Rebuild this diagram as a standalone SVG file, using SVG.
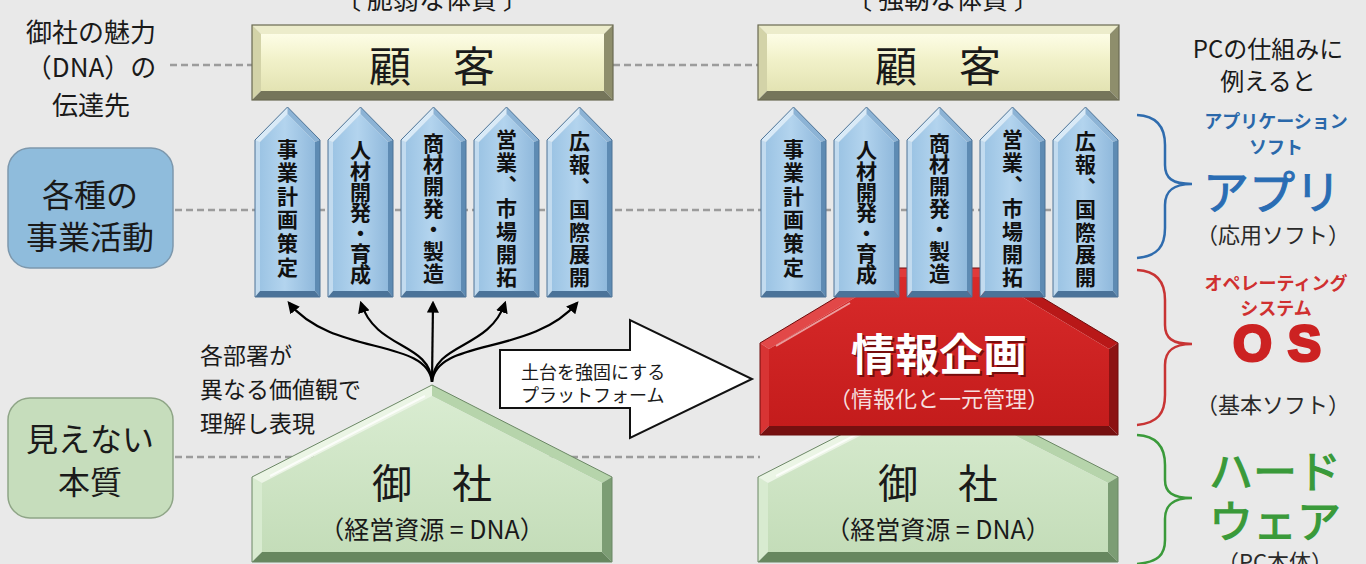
<svg xmlns="http://www.w3.org/2000/svg" width="1366" height="564" viewBox="0 0 1366 564">
<defs>
<style>
text { font-family: "Noto Sans CJK JP", "Noto Sans", sans-serif; fill:#1a1a1a; }
.c { text-anchor:middle; dominant-baseline:central; }
.l { text-anchor:start; dominant-baseline:central; }
.pt { font-size:21px; font-weight:bold; text-anchor:middle; writing-mode:vertical-rl; fill:#111; }
.dash { fill:none; stroke:#9c9c9c; stroke-width:2.5; stroke-dasharray:7 4; }
.arr { fill:none; stroke:#000; stroke-width:2.2; marker-end:url(#ah); }
.brace { fill:none; stroke-width:2.5; }
</style>
<marker id="ah" viewBox="0 0 10 10" refX="8" refY="5" markerWidth="5.5" markerHeight="5.5" orient="auto" markerUnits="strokeWidth">
<path d="M0,0 L10,5 L0,10 z" fill="#000"/>
</marker>
<linearGradient id="gCust" x1="0" y1="0" x2="0" y2="1">
<stop offset="0" stop-color="#fdfde6"/><stop offset="0.45" stop-color="#f1f1c9"/><stop offset="1" stop-color="#e3e3b3"/>
</linearGradient>
<linearGradient id="gPil" x1="0" y1="0" x2="1" y2="0">
<stop offset="0" stop-color="#9cc4e4"/><stop offset="0.45" stop-color="#b3d4ee"/><stop offset="1" stop-color="#90b9dc"/>
</linearGradient>
<linearGradient id="gHouse" x1="0" y1="0" x2="0" y2="1">
<stop offset="0" stop-color="#d9ecd1"/><stop offset="1" stop-color="#c4ddb9"/>
</linearGradient>
<linearGradient id="gRed" x1="0" y1="0" x2="0" y2="1">
<stop offset="0" stop-color="#d82a2a"/><stop offset="1" stop-color="#c41c1c"/>
</linearGradient>
<g id="custShape">
<polygon points="252,25 613,25 604,34 261,34" fill="#ececcb"/>
<polygon points="252,25 261,34 261,91 252,100" fill="#d3d3a8"/>
<polygon points="613,25 613,100 604,91 604,34" fill="#8e8e6c"/>
<polygon points="252,100 261,91 604,91 613,100" fill="#75755a"/>
<rect x="261" y="34" width="343" height="57" fill="url(#gCust)"/>
<rect x="252" y="25" width="361" height="75" fill="none" stroke="#6a6a52" stroke-width="1.2"/>
</g>
<g id="pillarShape">
<polygon points="32.5,107 32.5,114 5,142 0,140" fill="#d9eaf7"/>
<polygon points="32.5,107 65,140 60,142 32.5,114" fill="#8cb3d5"/>
<polygon points="0,140 5,142 5,291 0,297" fill="#c2dbef"/>
<polygon points="65,140 65,297 60,291 60,142" fill="#5e8bb3"/>
<polygon points="0,297 5,291 60,291 65,297" fill="#4b7399"/>
<polygon points="32.5,114 60,142 60,291 5,291 5,142" fill="url(#gPil)"/>
<polygon points="32.5,107 65,140 65,297 0,297 0,140" fill="none" stroke="#4d7396" stroke-width="1"/>
</g>
<g id="houseShape">
<polygon points="432,385 432,396 262,483 252,477" fill="#ebf5e5"/>
<polygon points="432,385 612,477 602,483 432,396" fill="#b6d4ab"/>
<polygon points="252,477 262,483 262,552 252,562" fill="#d8ebd0"/>
<polygon points="612,477 612,562 602,552 602,483" fill="#7c9d74"/>
<polygon points="252,562 262,552 602,552 612,562" fill="#67875f"/>
<polygon points="432,396 602,483 602,552 262,552 262,483" fill="url(#gHouse)"/>
<line x1="270" y1="476" x2="425" y2="396" stroke="#ffffff" stroke-width="2" opacity="0.8"/>
<polygon points="432,385 612,477 612,562 252,562 252,477" fill="none" stroke="#6b8765" stroke-width="1"/>
</g>
</defs>

<rect x="0" y="0" width="1366" height="564" fill="#e9e9e9"/>

<g id="guides">
<line class="dash" x1="170" y1="65" x2="252" y2="65"/>
<line class="dash" x1="613" y1="65" x2="758" y2="65"/>
<line class="dash" x1="175" y1="210" x2="1118" y2="210"/>
<line class="dash" x1="175" y1="457" x2="760" y2="457"/>
</g>

<g id="headings">
<text class="c" x="432" y="-3" font-size="26">〔 脆弱な体質 〕</text>
<text class="c" x="943" y="-3" font-size="26">〔 強靭な体質 〕</text>
</g>

<g id="label-dna">
<text class="c" x="91" y="30" font-size="26">御社の魅力</text>
<text class="c" x="91" y="65" font-size="26">（DNA）の</text>
<text class="c" x="91" y="103" font-size="26">伝達先</text>
</g>

<g id="label-activities">
<rect x="8" y="148" width="165" height="120" rx="22" fill="#8fbcdc" stroke="#7d98ad" stroke-width="1.5"/>
<text class="c" x="90" y="193" font-size="32">各種の</text>
<text class="c" x="90" y="235" font-size="32">事業活動</text>
</g>

<g id="label-essence">
<rect x="8" y="398" width="165" height="120" rx="22" fill="#c6ddbc" stroke="#8fa587" stroke-width="1.5"/>
<text class="c" x="90" y="437" font-size="32">見えない</text>
<text class="c" x="90" y="480" font-size="32">本質</text>
</g>

<g id="label-pc">
<text class="c" x="1268" y="47" font-size="24">PCの仕組みに</text>
<text class="c" x="1268" y="79" font-size="24">例えると</text>
</g>

<g id="cust-left">
<use href="#custShape"/>
<text class="c" x="432" y="63" font-size="42">顧　客</text>
</g>
<g id="cust-right">
<use href="#custShape" transform="translate(506,0)"/>
<text class="c" x="938" y="63" font-size="42">顧　客</text>
</g>

<g id="house-left">
<use href="#houseShape"/>
<text class="c" x="432" y="481" font-size="40">御　社</text>
<text class="c" x="432" y="528" font-size="25">（経営資源 = DNA）</text>
</g>
<g id="house-right">
<use href="#houseShape" transform="translate(506,0)"/>
<text class="c" x="938" y="481" font-size="40">御　社</text>
<text class="c" x="938" y="528" font-size="25">（経営資源 = DNA）</text>
</g>

<g id="joho">
<polygon points="885,268 993,268 989,277 889,277" fill="#e03a3a"/>
<polygon points="760,343 885,268 889,277 769,349" fill="#e24848"/>
<polygon points="993,268 1118,343 1109,349 989,277" fill="#b81818"/>
<polygon points="760,343 769,349 769,426 760,435" fill="#d83434"/>
<polygon points="1118,343 1118,435 1109,426 1109,349" fill="#8c1212"/>
<polygon points="760,435 769,426 1109,426 1118,435" fill="#761010"/>
<polygon points="889,277 989,277 1109,349 1109,426 769,426 769,349" fill="url(#gRed)"/>
<line x1="776" y1="346" x2="850" y2="303" stroke="#ffffff" stroke-width="2" opacity="0.55"/>
<polygon points="885,268 993,268 1118,343 1118,435 760,435 760,343" fill="none" stroke="#6e0c0c" stroke-width="1"/>
<text class="c" x="941" y="354" font-size="44" font-weight="bold" style="fill:#5a0606" opacity="0.75">情報企画</text>
<text class="c" x="939" y="352" font-size="44" font-weight="bold" style="fill:#ffffff">情報企画</text>
<text class="c" x="939" y="397" font-size="22" style="fill:#f6dede">（情報化と一元管理）</text>
</g>

<g id="pillar-l1">
<use href="#pillarShape" transform="translate(255,0)"/>
<text class="pt" x="287.5" y="209" letter-spacing="2.6">事業計画策定</text>
</g>
<g id="pillar-l2">
<use href="#pillarShape" transform="translate(328,0)"/>
<text class="pt" x="360.5" y="212" letter-spacing="-0.4">人材開発・育成</text>
</g>
<g id="pillar-l3">
<use href="#pillarShape" transform="translate(401,0)"/>
<text class="pt" x="433.5" y="208" letter-spacing="0.7">商材開発・製造</text>
</g>
<g id="pillar-l4">
<use href="#pillarShape" transform="translate(474,0)"/>
<text class="pt" x="506.5" y="209" letter-spacing="1.9">営業、市場開拓</text>
</g>
<g id="pillar-l5">
<use href="#pillarShape" transform="translate(547,0)"/>
<text class="pt" x="579.5" y="210" letter-spacing="1.6">広報、国際展開</text>
</g>

<g id="pillar-r1">
<use href="#pillarShape" transform="translate(761,0)"/>
<text class="pt" x="793.5" y="209" letter-spacing="2.6">事業計画策定</text>
</g>
<g id="pillar-r2">
<use href="#pillarShape" transform="translate(834,0)"/>
<text class="pt" x="866.5" y="212" letter-spacing="-0.4">人材開発・育成</text>
</g>
<g id="pillar-r3">
<use href="#pillarShape" transform="translate(907,0)"/>
<text class="pt" x="939.5" y="208" letter-spacing="0.7">商材開発・製造</text>
</g>
<g id="pillar-r4">
<use href="#pillarShape" transform="translate(980,0)"/>
<text class="pt" x="1012.5" y="209" letter-spacing="1.9">営業、市場開拓</text>
</g>
<g id="pillar-r5">
<use href="#pillarShape" transform="translate(1053,0)"/>
<text class="pt" x="1085.5" y="210" letter-spacing="1.6">広報、国際展開</text>
</g>

<g id="connectors">
<path class="arr" d="M432,382 C428,338 332,356 289,303"/>
<path class="arr" d="M432,382 C430,342 376,350 361,303"/>
<path class="arr" d="M432,382 L433,303"/>
<path class="arr" d="M432,382 C434,342 489,350 505,303"/>
<path class="arr" d="M432,382 C436,338 532,356 577,303"/>
</g>

<g id="dept-note">
<text class="l" x="200" y="354" font-size="23">各部署が</text>
<text class="l" x="200" y="388" font-size="23">異なる価値観で</text>
<text class="l" x="200" y="422" font-size="23">理解し表現</text>
</g>

<g id="platform-arrow">
<polygon points="500,350 630,350 630,320 752,379 630,438 630,408 500,408" fill="#ffffff" stroke="#111" stroke-width="2"/>
<text class="l" x="521" y="371" font-size="18">土台を強固にする</text>
<text class="l" x="521" y="394" font-size="18">プラットフォーム</text>
</g>

<g id="brace-app">
<path class="brace" stroke="#2f6cae" d="M1137,115 C1158,116 1165,128 1165,145 L1165,165 C1165,178 1172,184 1192,184 C1172,184 1165,192 1165,205 L1165,228 C1165,246 1158,256 1137,258"/>
<text class="c" x="1276" y="120" font-size="18" font-weight="bold" style="fill:#2a68aa">アプリケーション</text>
<text class="c" x="1276" y="146" font-size="18" font-weight="bold" style="fill:#2a68aa">ソフト</text>
<text class="c" x="1272" y="189" font-size="46" style="fill:#2a6db4;stroke:#2a6db4;stroke-width:1">アプリ</text>
<text class="c" x="1273" y="233" font-size="22" style="fill:#2a2a2a">（応用ソフト）</text>
</g>

<g id="brace-os">
<path class="brace" stroke="#c83434" d="M1137,270 C1158,271 1165,283 1165,300 L1165,325 C1165,338 1172,344 1192,344 C1172,344 1165,352 1165,365 L1165,395 C1165,413 1158,423 1137,425"/>
<text class="c" x="1276" y="282" font-size="18" font-weight="bold" style="fill:#d03030">オペレーティング</text>
<text class="c" x="1276" y="307" font-size="18" font-weight="bold" style="fill:#d03030">システム</text>
<text x="1285" y="361" font-size="50" font-weight="bold" text-anchor="middle" letter-spacing="16" style="font-family:'Liberation Sans', Arial, sans-serif;fill:#cc2222;stroke:#cc2222;stroke-width:3">OS</text>
<text class="c" x="1273" y="403" font-size="22" style="fill:#2a2a2a">（基本ソフト）</text>
</g>

<g id="brace-hw">
<path class="brace" stroke="#3a9a3a" d="M1137,435 C1158,436 1165,448 1165,465 L1165,480 C1165,492 1172,498 1192,498 C1172,498 1165,506 1165,519 L1165,540 C1165,555 1158,562 1137,564"/>
<text class="c" x="1275" y="469" font-size="44" style="fill:#3a9a3a;stroke:#3a9a3a;stroke-width:1.2">ハード</text>
<text class="c" x="1275" y="519" font-size="44" style="fill:#3a9a3a;stroke:#3a9a3a;stroke-width:1.2">ウェア</text>
<text class="c" x="1275" y="560" font-size="22" style="fill:#2a2a2a">（PC本体）</text>
</g>
</svg>
